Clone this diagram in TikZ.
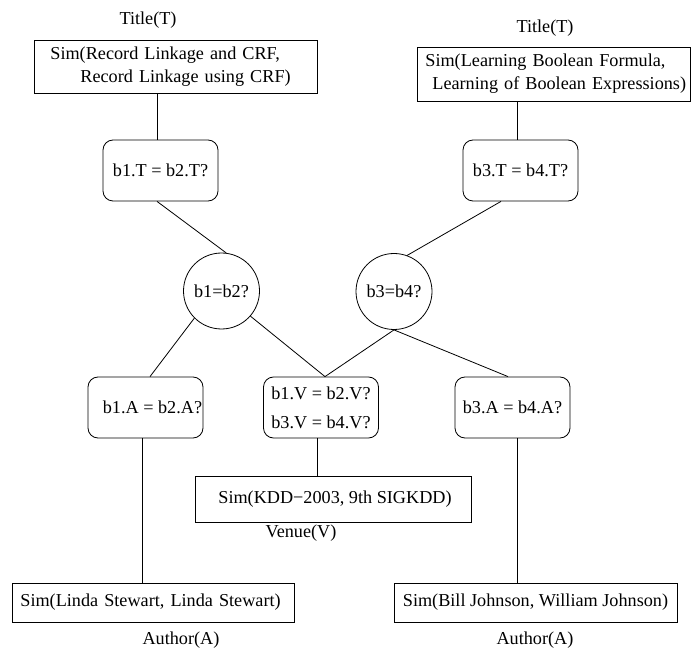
\documentclass[tikz,border=0pt]{standalone}
\usepackage{fontspec}
\setmainfont{Liberation Serif}
\usetikzlibrary{calc}
\begin{document}
\begin{tikzpicture}[x=1pt,y=-1pt,
  every node/.style={font=\fontsize{18.2}{23}\selectfont, inner sep=0pt},
  simbox/.style={draw, line width=0.8pt, rectangle},
  qbox/.style={draw, line width=0.8pt, rectangle, rounded corners=10pt, minimum width=115pt, minimum height=61pt, align=center},
  qcirc/.style={draw, line width=0.8pt, circle, minimum size=76pt},
  lbl/.style={},
  conn/.style={line width=0.8pt}]
\useasboundingbox (0,0) rectangle (691,652);

% titles
\node[lbl] (tt1) at (148,20) {Title(T)};
\node[lbl] (tt2) at (545,28) {Title(T)};

% top sim boxes
\node[simbox, anchor=west, text width=251pt, inner xsep=16pt, minimum height=53pt, align=left] (s1) at (34,66.5)
  {\mbox{Sim(Record Linkage and CRF,}\\\mbox{\hspace*{30pt}Record Linkage using CRF)}};
\node[simbox, anchor=west, text width=257pt, inner xsep=8pt, minimum height=54pt, align=left] (s2) at (417,74)
  {\mbox{Sim(Learning Boolean Formula,}\\\mbox{\hspace*{7pt}Learning of Boolean Expressions)}};

% question boxes
\node[qbox] (b1T) at (160.5,170.5) {b1.T = b2.T?};
\node[qbox] (b3T) at (520.5,170.5) {b3.T = b4.T?};

\node[qcirc] (b12) at (221.5,291) {b1=b2?};
\node[qcirc] (b34) at (394,291.5) {b3=b4?};

\node[qbox] (b1A) at (145.5,407.5) {\hspace*{14pt}b1.A = b2.A?};
\node[qbox, font=\fontsize{18.2}{29}\selectfont] (bV) at (321,407.5) {b1.V = b2.V?\\b3.V = b4.V?};
\node[qbox] (b3A) at (512.5,407.5) {b3.A = b4.A?};

% venue
\node[simbox, minimum width=276pt, minimum height=46pt] (sV) at (333,499) {\hspace*{4pt}Sim(KDD−2003, 9th SIGKDD)};
\node[lbl] (tV) at (301,533) {Venue(V)};

% authors
\node[simbox, anchor=west, text width=266pt, inner xsep=8pt, minimum height=39pt, align=left] (sA1) at (12,602.5) {Sim(Linda Stewart, Linda Stewart)};
\node[simbox, minimum width=283pt, minimum height=39pt] (sA2) at (535.5,602.5) {Sim(Bill Johnson, William Johnson)};
\node[lbl] (tA1) at (181,640) {Author(A)};
\node[lbl] (tA2) at (535,640) {Author(A)};

% connectors
\draw[conn] ([xshift=-3.5pt]b1T.north) -- ([xshift=-3.5pt]b1T.north |- s1.south);
\draw[conn] ([xshift=-3.5pt]b3T.north) -- ([xshift=-3.5pt]b3T.north |- s2.south);
\draw[conn] ([xshift=-3.5pt]b1T.south) -- (b12.83);
\draw[conn] ([xshift=-19.5pt]b3T.south) -- (b34.70);
\draw[conn] (b12.225) -- ([xshift=4.5pt]b1A.north);
\draw[conn] (b12.319) -- ([xshift=4pt]bV.north);
\draw[conn] (b34.south) -- ([xshift=4pt]bV.north);
\draw[conn] (b34.south) -- ([xshift=-4.5pt]b3A.north);
\draw[conn] ([xshift=-4pt]bV.south) -- ([xshift=-4pt]bV.south |- sV.north);
\draw[conn] ([xshift=-3.5pt]b1A.south) -- ([xshift=-3.5pt]b1A.south |- sA1.north);
\draw[conn] ([xshift=4.5pt]b3A.south) -- ([xshift=4.5pt]b3A.south |- sA2.north);
\end{tikzpicture}
\end{document}
